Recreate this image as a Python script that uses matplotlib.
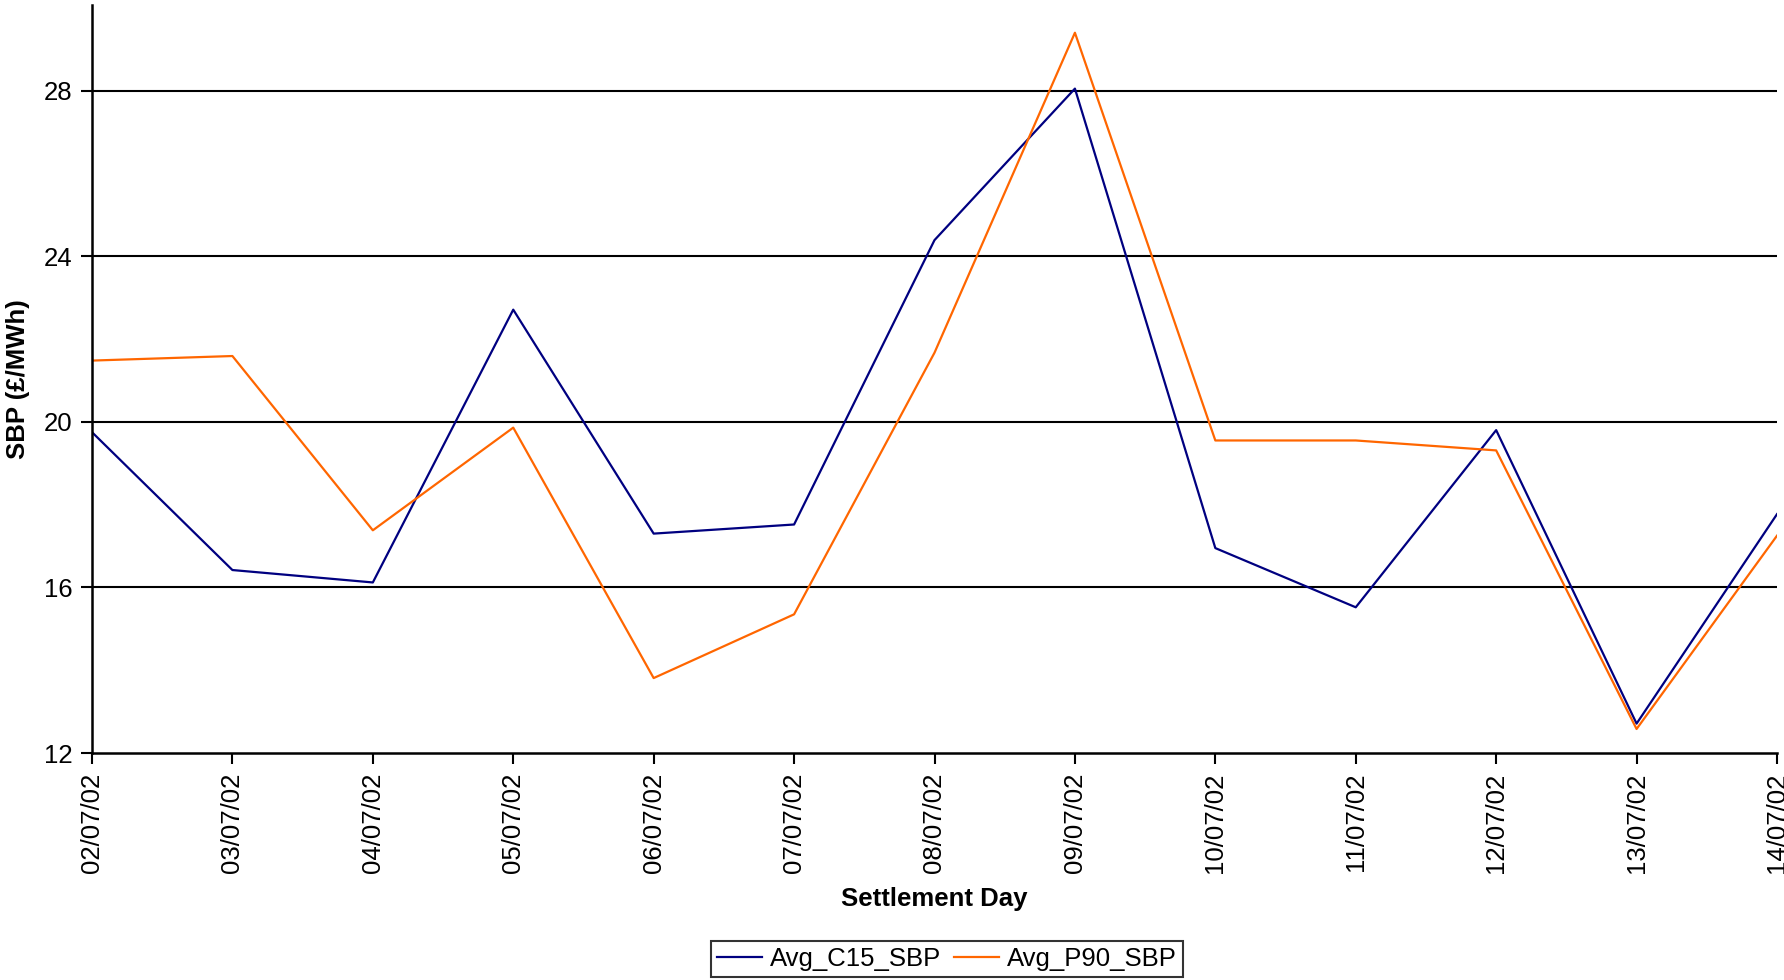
import numpy as np
import matplotlib.pyplot as plt

plt.rcParams['font.family'] = ['Liberation Sans', 'DejaVu Sans']

days = ['02/07/02', '03/07/02', '04/07/02', '05/07/02', '06/07/02', '07/07/02',
        '08/07/02', '09/07/02', '10/07/02', '11/07/02', '12/07/02', '13/07/02',
        '14/07/02']
c15 = [19.75, 16.42, 16.12, 22.71, 17.30, 17.52, 24.39, 28.05, 16.95, 15.52,
       19.80, 12.71, 17.77]
p90 = [21.48, 21.59, 17.38, 19.86, 13.81, 15.35, 21.67, 29.40, 19.55, 19.55,
       19.31, 12.58, 17.25]
yticks = [12, 16, 20, 24, 28]

fs = 18.5
fig = plt.figure(figsize=(17.84, 9.8), dpi=100)
ax = fig.add_axes([92/1784, 1-753/980, (1777-92)/1784, (753-5)/980])

x = np.arange(len(days))
ax.plot(x, c15, color='#000080', lw=1.6, label='Avg_C15_SBP')
ax.plot(x, p90, color='#FF6600', lw=1.6, label='Avg_P90_SBP')

ax.set_xlim(0, len(days)-1)
ax.set_ylim(12, 30.07)
ax.set_yticks(yticks)
ax.set_xticks(x)
ax.set_xticklabels(days, rotation=90)
ax.tick_params(labelsize=fs, length=8, width=1.5, direction='out', pad=6)
for v in yticks[1:]:
    ax.axhline(v, color='black', lw=1.5, zorder=0)

for s in ['top', 'right']:
    ax.spines[s].set_visible(False)
for s in ['left', 'bottom']:
    ax.spines[s].set_linewidth(1.8)

ax.set_ylabel('SBP (£/MWh)', fontsize=fs, fontweight='bold', labelpad=10)
fig.text(934/1784, 1-899/980, 'Settlement Day', fontsize=fs, fontweight='bold',
         ha='center', va='center')

leg = fig.legend(loc='center', bbox_to_anchor=(947/1784, 1-959/980), ncol=2,
                 fontsize=fs, frameon=True, fancybox=False, edgecolor='black',
                 handlelength=1.75, columnspacing=0.5, handletextpad=0.3,
                 borderpad=0.25, borderaxespad=0)
leg.get_frame().set_linewidth(1.5)

fig.savefig('out.png', dpi=100)
